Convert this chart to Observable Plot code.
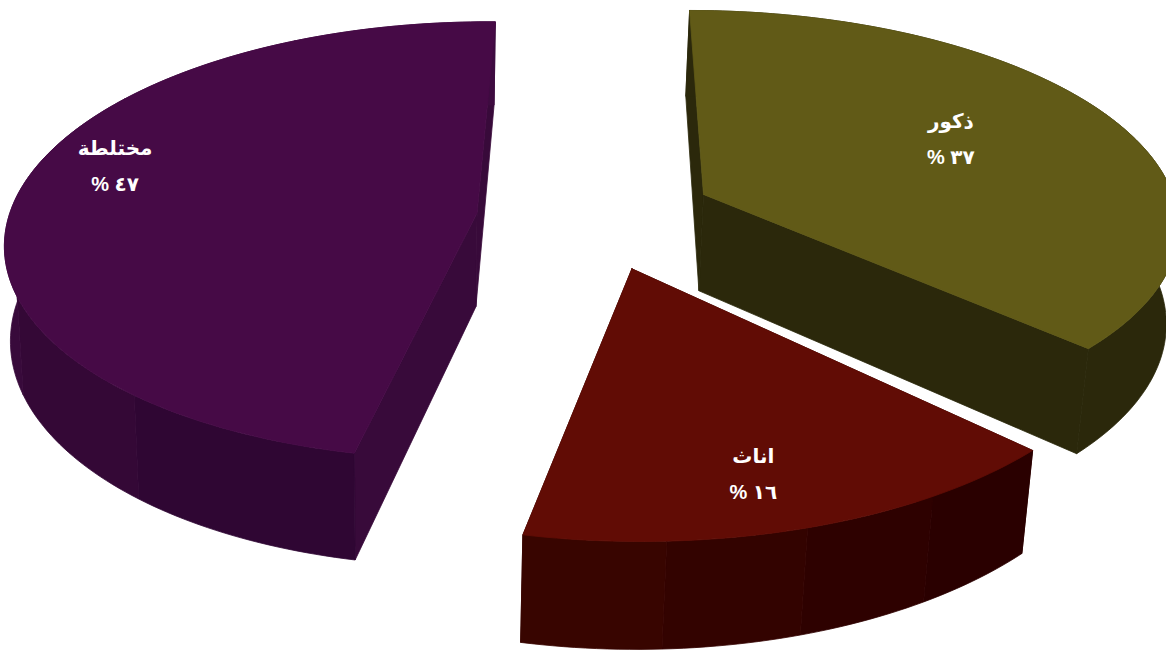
<!DOCTYPE html>
<html lang="ar">
<head>
<meta charset="utf-8">
<style>
html,body{margin:0;padding:0;background:#fff;}
svg{display:block;}
</style>
<script src="https://cdn.jsdelivr.net/npm/d3@7"></script>
<script src="https://cdn.jsdelivr.net/npm/@observablehq/plot@0.6"></script>
</head>
<body>
<div id="chart"></div>
<script>
// Data, clockwise from the top of the pie
const categories = ["ذكور", "اناث", "مختلطة"];
const shares = [37, 16, 47];
const shareLabels = ["٣٧ %", "١٦ %", "٤٧ %"];

// Colours
const faceColors = ["#615a17", "#610c05", "#460a46"];
const edgeColors = ["#2b280b", "#330400", "#380a3a"];
const rimBands = [
  ["#2b280b"],
  ["#2a0000", "#2e0100", "#330300", "#380500"],
  ["#2f0633", "#340836", "#380a3b", "#3a0a3c", "#3c0a3e", "#3e0b40"]
];
const drawOrder = [2, 0, 1];

// Label placement on the pie plane, relative to each slice's tip (pie radii)
const labelAcross = [0.554, 0.21, -0.79];
const labelAlong = [0.276, -0.82, 0.225];

// Camera for the tilted, exploded pie (pie radius = 1)
const cam = {vanishX: 575, focal: 3850, height: 13900, horizon: 1500, nadirX: 400, nadirY: 6500};
const pieAcross = 0.045, pieDepth = 8.09, explode = 0.24;
const rotation = 1 * Math.PI / 180;

// Small per-slice corrections
const nudgeAcross = [0.006, 0, -0.014];
const nudgeDepth = [0.024, 0, 0];
const nudgeSpin = [-0.0175, 0, 0];
const radiusAcross = [1, 1.02, 0.985];
const radiusDepth = [1, 1.05, 1.02];
const thickness = [790, 735, 760];

const project = (a, z) => [cam.vanishX + cam.focal * a / z, cam.height / z - cam.horizon];
const dropWith = (thick) => (a, z) => {
  const [x, y] = project(a, z);
  const d = thick / z;
  return [x + (cam.nadirX - x) / (cam.nadirY - y) * d, y + d];
};

const arcs = d3.pie().sort(null).startAngle(rotation).endAngle(rotation + 2 * Math.PI)(shares);
const slices = arcs.map((arc, i) => {
  const mid = (arc.startAngle + arc.endAngle) / 2;
  return {
    a: pieAcross + explode * Math.sin(mid) + nudgeAcross[i],
    z: pieDepth + explode * Math.cos(mid) + nudgeDepth[i],
    t0: arc.startAngle + nudgeSpin[i],
    t1: arc.endAngle + nudgeSpin[i],
    ra: radiusAcross[i],
    rz: radiusDepth[i]
  };
});
const rimPoint = (s, t) => [s.a + s.ra * Math.sin(t), s.z + s.rz * Math.cos(t)];
const arcAngles = (t0, t1) => {
  const n = Math.max(2, Math.ceil((t1 - t0) / 0.02));
  return d3.range(n + 1).map((i) => t0 + (t1 - t0) * i / n);
};
const ring = (pts, fill) => ({pts: [...pts, pts[0]].map(([x, y]) => ({x, y})), fill});

const shapes = [];
drawOrder.forEach((i) => {
  const s = slices[i];
  const drop = dropWith(thickness[i]);
  // straight side walls
  [s.t0, s.t1].forEach((t) => {
    const [a, z] = rimPoint(s, t);
    shapes.push(ring([project(s.a, s.z), project(a, z), drop(a, z), drop(s.a, s.z)], edgeColors[i]));
  });
  // curved rim, in shaded bands
  const bands = rimBands[i];
  bands.forEach((color, b) => {
    const t0 = s.t0 + (s.t1 - s.t0) * b / bands.length;
    const t1 = s.t0 + (s.t1 - s.t0) * (b + 1) / bands.length;
    const ts = arcAngles(t0, t1);
    const top = ts.map((t) => project(...rimPoint(s, t)));
    const bottom = ts.map((t) => drop(...rimPoint(s, t))).reverse();
    shapes.push(ring([...top, ...bottom], color));
  });
  // top face
  const rim = arcAngles(s.t0, s.t1).map((t) => project(...rimPoint(s, t)));
  shapes.push(ring([project(s.a, s.z), ...rim], faceColors[i]));
});

const labelPoints = categories.map((name, i) => {
  const [x, y] = project(slices[i].a + labelAcross[i], slices[i].z + labelAlong[i]);
  return {x, y, name, share: shareLabels[i]};
});

const textStyle = {
  x: "x", y: "y", fill: "#fff", fontSize: 20, fontWeight: "bold",
  fontFamily: "'Liberation Sans','DejaVu Sans',sans-serif", textAnchor: "middle"
};

const plot = Plot.plot({
  width: 1166, height: 650,
  marginTop: 0, marginRight: 0, marginBottom: 0, marginLeft: 0,
  x: {domain: [0, 1166], range: [0, 1166], axis: null},
  y: {domain: [0, 650], range: [0, 650], axis: null},
  style: {background: "#fff"},
  marks: [
    ...shapes.map((s) => Plot.line(s.pts, {x: "x", y: "y", fill: s.fill, stroke: s.fill, strokeWidth: 0.8})),
    Plot.text(labelPoints, {...textStyle, text: "name", dy: -18}),
    Plot.text(labelPoints, {...textStyle, text: "share", dy: 18})
  ]
});
plot.querySelectorAll("text").forEach((t) => {
  if (t.textContent.includes("%")) { t.style.direction = "rtl"; t.style.letterSpacing = "4px"; }
});
document.getElementById("chart").appendChild(plot);
</script>
</body>
</html>
